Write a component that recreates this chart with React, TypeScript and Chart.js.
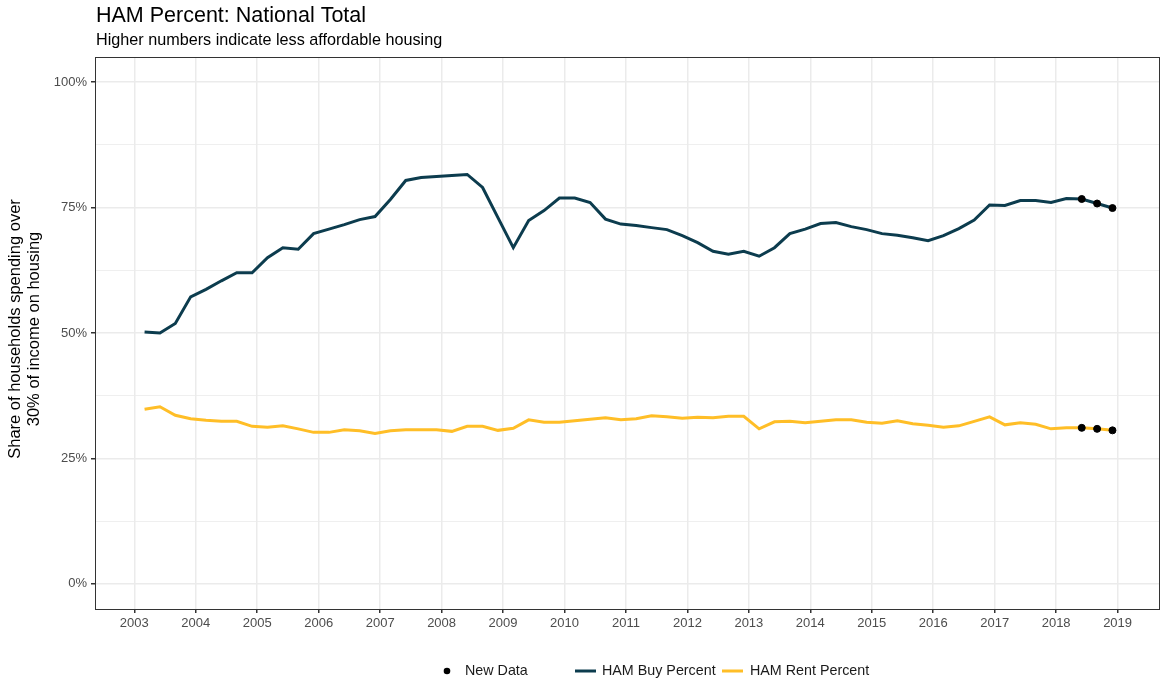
import React, { useEffect, useRef } from "react";
import { Chart, registerables } from "chart.js";

Chart.register(...registerables);

const quarters = [
  "2003-03","2003-06","2003-09","2003-12","2004-03","2004-06","2004-09","2004-12",
  "2005-03","2005-06","2005-09","2005-12","2006-03","2006-06","2006-09","2006-12",
  "2007-03","2007-06","2007-09","2007-12","2008-03","2008-06","2008-09","2008-12",
  "2009-03","2009-06","2009-09","2009-12","2010-03","2010-06","2010-09","2010-12",
  "2011-03","2011-06","2011-09","2011-12","2012-03","2012-06","2012-09","2012-12",
  "2013-03","2013-06","2013-09","2013-12","2014-03","2014-06","2014-09","2014-12",
  "2015-03","2015-06","2015-09","2015-12","2016-03","2016-06","2016-09","2016-12",
  "2017-03","2017-06","2017-09","2017-12","2018-03","2018-06","2018-09","2018-12",
];

const buyPercent = [
  50.2, 50.0, 51.9, 57.2, 58.7, 60.4, 62.0, 62.0,
  65.0, 67.0, 66.7, 69.8, 70.7, 71.6, 72.6, 73.2,
  76.6, 80.4, 81.0, 81.2, 81.4, 81.6, 79.0, 73.0,
  67.0, 72.4, 74.4, 76.9, 76.9, 76.0, 72.7, 71.7,
  71.4, 71.0, 70.6, 69.4, 68.0, 66.3, 65.7, 66.3,
  65.3, 67.0, 69.8, 70.7, 71.8, 72.0, 71.2, 70.6,
  69.8, 69.5, 69.0, 68.4, 69.4, 70.8, 72.5, 75.5,
  75.4, 76.4, 76.4, 76.0, 76.8, 76.7, 75.8, 74.9,
];

const rentPercent = [
  34.8, 35.3, 33.6, 32.9, 32.6, 32.4, 32.4, 31.4,
  31.2, 31.5, 30.9, 30.2, 30.2, 30.7, 30.5, 30.0,
  30.5, 30.7, 30.7, 30.7, 30.4, 31.4, 31.4, 30.6,
  31.0, 32.7, 32.2, 32.2, 32.5, 32.8, 33.1, 32.7,
  32.9, 33.5, 33.3, 33.0, 33.2, 33.1, 33.4, 33.4,
  30.9, 32.3, 32.4, 32.1, 32.4, 32.7, 32.7, 32.2,
  32.0, 32.5, 31.9, 31.6, 31.2, 31.5, 32.4, 33.3,
  31.7, 32.1, 31.8, 30.9, 31.1, 31.1, 30.9, 30.6,
];

const newDataCount = 3;

const yearTicks = [2003, 2004, 2005, 2006, 2007, 2008, 2009, 2010, 2011, 2012, 2013, 2014, 2015, 2016, 2017, 2018, 2019];
const yTicks = [0, 12.5, 25, 37.5, 50, 62.5, 75, 87.5, 100];

const titleText = "HAM Percent: National Total";
const subtitleText = "Higher numbers indicate less affordable housing";
const yTitleLines = ["Share of households spending over", "30% of income on housing"];
const legendLabels = ["New Data", "HAM Buy Percent", "HAM Rent Percent"];

const BUY_COLOR = "#0C3C4E";
const RENT_COLOR = "#FFBE27";
const FONT = "'Liberation Sans', Arial, Helvetica, sans-serif";

function toYear(q: string): number {
  const [y, m] = q.split("-").map(Number);
  return y + (m - 1) / 12;
}

const xs = quarters.map(toYear);

export default function App() {
  const ref = useRef<HTMLCanvasElement | null>(null);

  useEffect(() => {
    const canvas = ref.current;
    if (!canvas) return;

    const buyPts = xs.map((x, i) => ({ x, y: buyPercent[i] }));
    const rentPts = xs.map((x, i) => ({ x, y: rentPercent[i] }));
    const n = xs.length;
    const newPts = [
      ...buyPts.slice(n - newDataCount),
      ...rentPts.slice(n - newDataCount),
    ];

    const decor = {
      id: "decor",
      afterDraw(chart: any) {
        const ctx = chart.ctx;
        const a = chart.chartArea;
        ctx.save();
        // panel border
        ctx.strokeStyle = "#333333";
        ctx.lineWidth = 1;
        ctx.strokeRect(Math.round(a.left) + 0.5, Math.round(a.top) + 0.5, Math.round(a.right - a.left) - 1, Math.round(a.bottom - a.top));
        // title
        ctx.fillStyle = "#000000";
        ctx.textBaseline = "middle";
        ctx.textAlign = "left";
        ctx.font = `21.5px ${FONT}`;
        ctx.fillText(titleText, 96, 16);
        ctx.font = `16.2px ${FONT}`;
        ctx.fillText(subtitleText, 96, 41);
        // y axis title
        ctx.save();
        ctx.translate(0, 329);
        ctx.rotate(-Math.PI / 2);
        ctx.textAlign = "center";
        ctx.font = `16.5px ${FONT}`;
        ctx.fillText(yTitleLines[0], 0, 15);
        ctx.fillText(yTitleLines[1], 0, 34);
        ctx.restore();
        // legend
        const ly = 671;
        ctx.font = `14.3px ${FONT}`;
        ctx.fillStyle = "#000000";
        ctx.beginPath();
        ctx.arc(447, ly, 3.3, 0, Math.PI * 2);
        ctx.fill();
        ctx.fillStyle = "#1a1a1a";
        ctx.fillText(legendLabels[0], 465, ly);
        ctx.lineWidth = 3;
        ctx.strokeStyle = BUY_COLOR;
        ctx.beginPath();
        ctx.moveTo(575, ly);
        ctx.lineTo(596, ly);
        ctx.stroke();
        ctx.fillText(legendLabels[1], 602, ly);
        ctx.strokeStyle = RENT_COLOR;
        ctx.beginPath();
        ctx.moveTo(722, ly);
        ctx.lineTo(743, ly);
        ctx.stroke();
        ctx.fillText(legendLabels[2], 750, ly);
        ctx.restore();
      },
    };

    const chart = new Chart(canvas, {
      type: "line",
      data: {
        datasets: [
          {
            label: legendLabels[0],
            type: "scatter",
            data: newPts,
            backgroundColor: "#000000",
            borderColor: "#000000",
            pointRadius: 3.5,
            pointHoverRadius: 3.5,
            showLine: false,
            order: 0,
          } as any,
          {
            label: legendLabels[1],
            data: buyPts,
            borderColor: BUY_COLOR,
            borderWidth: 3,
            pointRadius: 0,
            tension: 0,
            fill: false,
            order: 1,
          },
          {
            label: legendLabels[2],
            data: rentPts,
            borderColor: RENT_COLOR,
            borderWidth: 3,
            pointRadius: 0,
            tension: 0,
            fill: false,
            order: 2,
          },
        ],
      },
      options: {
        animation: false,
        responsive: false,
        devicePixelRatio: 1,
        events: [],
        layout: { autoPadding: false, padding: { top: 57, right: 1, bottom: 47, left: 0 } },
        plugins: {
          legend: { display: false },
          title: { display: false },
          tooltip: { enabled: false },
        },
        scales: {
          x: {
            type: "linear",
            min: 2002.36,
            max: 2019.69,
            afterBuildTicks(scale: any) {
              scale.ticks = yearTicks.map((v) => ({ value: v }));
            },
            afterFit(scale: any) {
              scale.height = 25;
              scale.paddingLeft = 0;
              scale.paddingRight = 0;
            },
            border: { display: false },
            grid: {
              color: "#EBEBEB",
              lineWidth: 1.5,
              tickColor: "#333333",
              tickLength: 4,
              drawTicks: true,
            },
            ticks: {
              autoSkip: false,
              maxRotation: 0,
              padding: 3,
              color: "#4D4D4D",
              font: { family: FONT, size: 13 },
              callback: (v: any) => String(v),
            },
          },
          y: {
            type: "linear",
            min: -5,
            max: 105,
            afterBuildTicks(scale: any) {
              scale.ticks = yTicks.map((v) => ({ value: v }));
            },
            afterFit(scale: any) {
              scale.width = 95;
              scale.paddingTop = 0;
              scale.paddingBottom = 0;
            },
            border: { display: false },
            grid: {
              color: "#EBEBEB",
              lineWidth: (c: any) => (c.tick && c.tick.value % 25 === 0 ? 1.5 : 0.8),
              tickColor: (c: any) => (c.tick && c.tick.value % 25 === 0 ? "#333333" : "rgba(0,0,0,0)"),
              tickLength: 4,
            },
            ticks: {
              autoSkip: false,
              padding: 4,
              color: "#4D4D4D",
              font: { family: FONT, size: 13 },
              callback: (v: any) => (Number(v) % 25 === 0 ? `${v}%` : ""),
            },
          },
        },
      } as any,
      plugins: [decor],
    });

    return () => chart.destroy();
  }, []);

  return (
    <div style={{ position: "fixed", left: 0, top: 0, width: 1161, height: 681, background: "#ffffff" }}>
      <canvas ref={ref} width={1161} height={681} style={{ display: "block" }} />
    </div>
  );
}
